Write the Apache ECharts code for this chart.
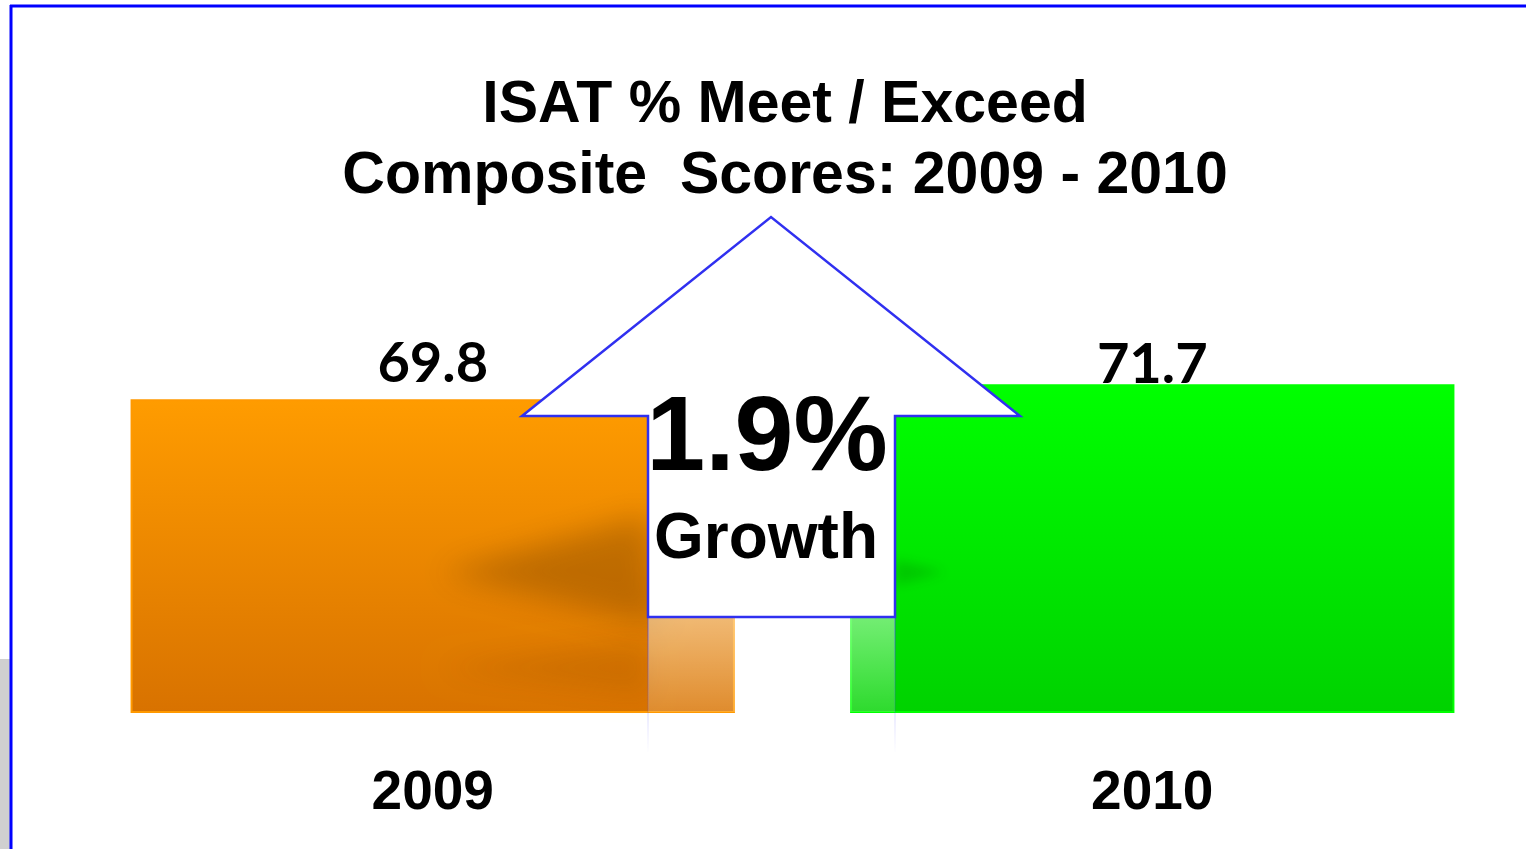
<!DOCTYPE html>
<html>
<head>
<meta charset="utf-8">
<title>ISAT % Meet / Exceed</title>
<script src="https://cdn.jsdelivr.net/npm/echarts@6/dist/echarts.min.js"></script>
<style>
  html, body { margin: 0; padding: 0; background: #fff; }
  #main { width: 1526px; height: 849px; }
</style>
</head>
<body>
<div id="main"></div>
<script>
// chart data
const years = ['2009', '2010']
const scores = [69.8, 71.7]
const growthText = '1.9%'

// bar colours [top, bottom, border]
const barColors = [
  ['#ff9c00', '#d87200', '#ff9900'],
  ['#00ff00', '#00d200', '#00ff00']
]
// label gaps so both value labels sit on one line
const labelGap = [7, -9]

const chart = echarts.init(document.getElementById('main'))

const barData = scores.map((v, i) => {
  return {
    value: v,
    itemStyle: {
      color: new echarts.graphic.LinearGradient(0, 0, 0, 1, [
        { offset: 0, color: barColors[i][0] },
        { offset: 1, color: barColors[i][1] }
      ]),
      borderColor: barColors[i][2],
      borderWidth: 2
    },
    label: { distance: labelGap[i] }
  }
})

// arrow outline (decoration)
const arrowPts = [
  [522, 416], [771, 217], [1020, 416], [895, 416],
  [895, 617], [648, 617], [648, 416]
]
const far = 3000 // shadow trick: shape drawn off-screen, only its blurred shadow shows

const option = {
  backgroundColor: '#fff',
  animation: false,
  title: {
    text: 'ISAT % Meet / Exceed\nComposite  Scores: 2009 - 2010',
    left: 780,
    top: 65,
    textAlign: 'center',
    textStyle: {
      fontFamily: 'Liberation Sans',
      fontWeight: 'bold',
      fontSize: 59,
      lineHeight: 71,
      color: '#000'
    }
  },
  grid: { left: 73, right: 14, top: 162, bottom: 137 },
  xAxis: {
    type: 'category',
    data: years,
    axisLine: { show: false },
    axisTick: { show: false },
    axisLabel: {
      margin: 54,
      fontFamily: 'Liberation Sans',
      fontWeight: 'bold',
      fontSize: 55,
      color: '#000'
    }
  },
  yAxis: {
    type: 'value',
    min: 30,
    max: 100,
    show: false
  },
  series: [
    {
      type: 'bar',
      data: barData,
      barCategoryGap: '16%',
      z: 2,
      label: {
        show: true,
        position: 'top',
        fontFamily: 'Lato',
        fontWeight: 'bold',
        fontSize: 56,
        color: '#000'
      }
    }
  ],
  graphic: [
    // frame
    { type: 'rect', z: 1, shape: { x: 0, y: 659, width: 10, height: 190 }, style: { fill: '#d0d0d0' } },
    { type: 'line', z: 20, shape: { x1: 10, y1: 6, x2: 1526, y2: 6 }, style: { stroke: '#0000ff', lineWidth: 3 } },
    { type: 'line', z: 20, shape: { x1: 11, y1: 5, x2: 11, y2: 849 }, style: { stroke: '#0000ff', lineWidth: 3 } },
    // soft shadows of the arrow on the 2009 bar
    {
      type: 'polygon', z: 5,
      shape: { points: [[440 - far, 573], [648 - far, 515], [660 - far, 625]] },
      style: { fill: '#000', shadowColor: 'rgba(90,45,0,0.3)', shadowBlur: 30, shadowOffsetX: far }
    },
    {
      type: 'polygon', z: 5,
      shape: { points: [[440 - far, 668], [648 - far, 640], [648 - far, 695]] },
      style: { fill: '#000', shadowColor: 'rgba(90,45,0,0.12)', shadowBlur: 26, shadowOffsetX: far }
    },
    {
      type: 'polygon', z: 5,
      shape: { points: [[945 - far, 572], [895 - far, 560], [895 - far, 585]] },
      style: { fill: '#000', shadowColor: 'rgba(0,60,0,0.18)', shadowBlur: 12, shadowOffsetX: far }
    },
    // reflection under the arrow
    {
      type: 'rect', z: 6,
      shape: { x: 648, y: 618, width: 247, height: 94 },
      style: {
        fill: new echarts.graphic.LinearGradient(0, 0, 0, 1, [
          { offset: 0, color: 'rgba(255,255,255,0.45)' },
          { offset: 1, color: 'rgba(255,255,255,0.18)' }
        ])
      }
    },
    {
      type: 'line', z: 6,
      shape: { x1: 648, y1: 618, x2: 648, y2: 752 },
      style: {
        lineWidth: 2,
        stroke: new echarts.graphic.LinearGradient(0, 0, 0, 1, [
          { offset: 0, color: 'rgba(60,60,255,0.35)' },
          { offset: 1, color: 'rgba(60,60,255,0)' }
        ])
      }
    },
    {
      type: 'line', z: 6,
      shape: { x1: 895, y1: 618, x2: 895, y2: 752 },
      style: {
        lineWidth: 2,
        stroke: new echarts.graphic.LinearGradient(0, 0, 0, 1, [
          { offset: 0, color: 'rgba(60,60,255,0.35)' },
          { offset: 1, color: 'rgba(60,60,255,0)' }
        ])
      }
    },
    // the growth arrow
    {
      type: 'polygon', z: 8,
      shape: { points: arrowPts },
      style: { fill: '#fff', stroke: '#3030f0', lineWidth: 2.5, lineJoin: 'miter' }
    },
    {
      type: 'text', z: 9, x: 767, y: 441,
      style: {
        text: growthText,
        fontFamily: 'Liberation Sans',
        fontWeight: 'bold',
        fontSize: 106,
        fill: '#000',
        align: 'center',
        verticalAlign: 'middle'
      }
    },
    {
      type: 'text', z: 9, x: 766, y: 540,
      style: {
        text: 'Growth',
        fontFamily: 'Liberation Sans',
        fontWeight: 'bold',
        fontSize: 64,
        fill: '#000',
        align: 'center',
        verticalAlign: 'middle'
      }
    }
  ]
}

chart.setOption(option)
</script>
</body>
</html>
